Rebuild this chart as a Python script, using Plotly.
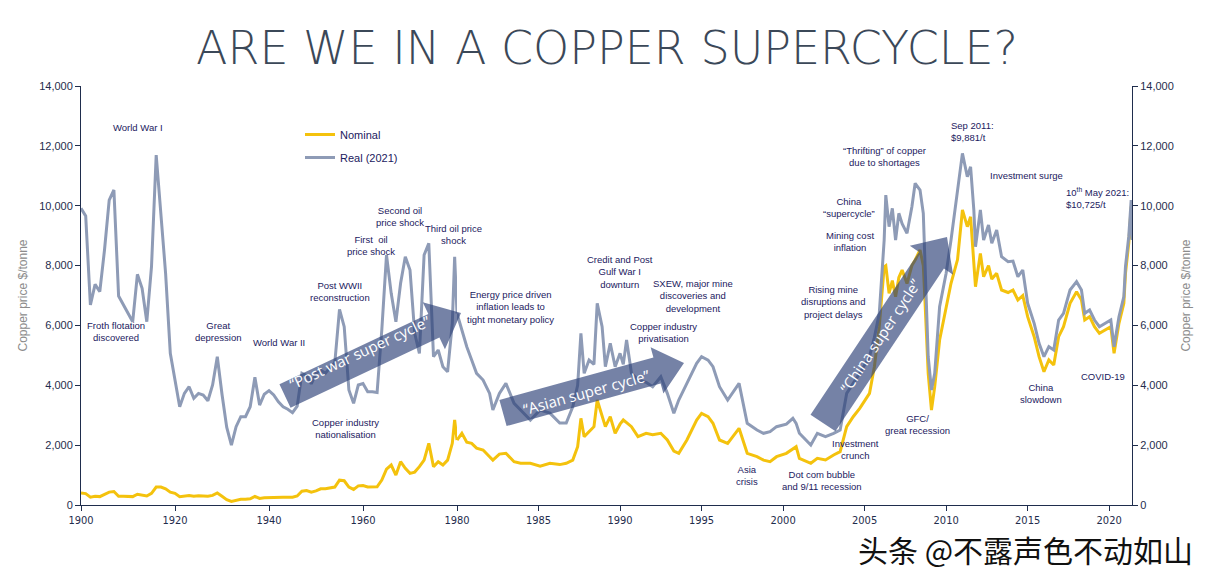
import math
import plotly.graph_objects as go

# ---------------- DATA ----------------
# Early period (annual, 1900-1980)
years_early = [1900, 1901, 1902, 1903, 1904, 1905, 1906, 1907, 1908, 1909,
               1910, 1911, 1912, 1913, 1914, 1915, 1916, 1917, 1918, 1919,
               1920, 1921, 1922, 1923, 1924, 1925, 1926, 1927, 1928, 1929,
               1930, 1931, 1932, 1933, 1934, 1935, 1936, 1937, 1938, 1939,
               1940, 1941, 1942, 1943, 1944, 1945, 1946, 1947, 1948, 1949,
               1950, 1951, 1952, 1953, 1954, 1955, 1956, 1957, 1958, 1959,
               1960, 1961, 1962, 1963, 1964, 1965, 1966, 1967, 1968, 1969,
               1970, 1971, 1972, 1973, 1974, 1975, 1976, 1977, 1978, 1979,
               1979.5, 1980]
real_early = [9912, 9655, 6682, 7373, 7127, 8520, 10190, 10525, 6983, 6682,
              6415, 6124, 7708, 7240, 6124, 7962, 11694, 9856, 7741, 5068,
              4176, 3284, 3730, 3953, 3565, 3730, 3675, 3485, 4009, 4955,
              3700, 2600, 2000, 2617, 2950, 2950, 3284, 4265, 3340, 3700,
              3820, 3675, 3450, 3284, 3200, 3085, 3300, 4400, 4320, 4050,
              4400, 4500, 4400, 4600, 4750, 6538, 5957, 3842, 3398, 4009,
              4060, 3786, 3786, 3760, 5847, 8352, 7073, 6124, 7407, 8296,
              7851, 5736, 5068, 8352, 8743, 4955, 5178, 4620, 4453, 6070,
              8296, 6400]
nominal_early = [400, 380, 260, 290, 280, 350, 430, 450, 290, 290,
                 290, 280, 360, 340, 300, 390, 600, 600, 540, 430,
                 390, 280, 300, 320, 290, 310, 300, 290, 320, 400,
                 290, 180, 120, 150, 190, 190, 210, 290, 220, 240,
                 250, 260, 260, 260, 260, 260, 300, 460, 480, 430,
                 470, 540, 540, 570, 600, 830, 810, 600, 520, 640,
                 650, 600, 600, 610, 835, 1200, 1336, 1000, 1447, 1225,
                 1058, 1100, 1280, 1500, 2061, 1280, 1447, 1336, 1500, 2061,
                 2840, 2172]

# Late period (sub-annual, 1980-2021)
t_late = [1980.0, 1980.3, 1980.6, 1980.9, 1981.2, 1981.6, 1982.0, 1982.2, 1982.6, 1983.0,
          1983.5, 1983.9, 1984.5, 1985.1, 1985.7, 1986.3, 1986.7, 1987.1, 1987.4, 1987.6,
          1987.8, 1988.1, 1988.4, 1988.6, 1988.9, 1989.1, 1989.4, 1989.7, 1990.0, 1990.2,
          1990.4, 1990.7, 1991.1, 1991.6, 1992.0, 1992.5, 1992.9, 1993.3, 1993.6, 1994.1,
          1994.7, 1995.0, 1995.4, 1995.7, 1996.1, 1996.6, 1997.3, 1997.8, 1998.4, 1998.8,
          1999.2, 1999.6, 2000.2, 2000.6, 2000.8, 2001.0, 2001.7, 2002.1, 2002.6, 2003.1,
          2003.5, 2003.9, 2004.3, 2004.7, 2005.3, 2005.6, 2005.9, 2006.2, 2006.3, 2006.5,
          2006.7, 2006.9, 2007.1, 2007.3, 2007.6, 2007.9, 2008.1, 2008.4, 2008.6, 2008.7,
          2008.9, 2009.1, 2009.3, 2009.6, 2010.0, 2010.3, 2010.7, 2011.0, 2011.3, 2011.5,
          2011.7, 2011.8, 2012.1, 2012.3, 2012.6, 2012.8, 2013.1, 2013.4, 2013.8, 2014.1,
          2014.4, 2014.7, 2015.0, 2015.4, 2015.7, 2016.0, 2016.3, 2016.6, 2016.9, 2017.2,
          2017.6, 2018.0, 2018.3, 2018.5, 2018.8, 2019.1, 2019.4, 2019.8, 2020.1, 2020.3,
          2020.6, 2020.9, 2021.0, 2021.2, 2021.35, 2021.4]
real_late = [6400, 5847, 5289, 4844, 4400, 4176, 3730, 3174, 3730, 4065,
             3398, 3174, 2840, 3174, 3070, 2740, 2740, 3284, 4000, 5736,
             4400, 4844, 4700, 6738, 5957, 4620, 5400, 4620, 5068, 4700,
             5512, 4400, 4176, 4100, 3953, 4287, 3730, 3063, 3508, 4065,
             4733, 4955, 4840, 4620, 3953, 3508, 4065, 2729, 2506, 2395,
             2450, 2617, 2700, 2897, 2729, 2395, 2005, 2395, 2283, 2395,
             2506, 3730, 4065, 4400, 4955, 5600, 6404, 8854, 10357, 9298,
             9912, 8854, 9746, 9400, 9077, 9968, 10748, 10524, 9746, 8296,
             4955, 3842, 4400, 6626, 7741, 8854, 10524, 11750, 10968, 11302,
             9856, 8630, 9856, 8854, 9355, 8743, 9188, 8296, 8129, 8150,
             7628, 7851, 6738, 6070, 5400, 4955, 5289, 5178, 6181, 6404,
             7183, 7462, 7183, 6404, 6515, 6181, 5957, 6070, 6181, 5289,
             6292, 6960, 7962, 8966, 10190, 8854]
nominal_late = [2172, 2395, 2100, 2061, 1900, 1838, 1614, 1500, 1700, 1727,
                1447, 1393, 1393, 1300, 1393, 1350, 1393, 1500, 1950, 2897,
                2283, 2450, 2617, 3508, 2950, 2617, 2950, 2395, 2700, 2840,
                2750, 2617, 2283, 2395, 2350, 2395, 2172, 1800, 1727, 2172,
                2840, 3063, 2950, 2729, 2172, 2061, 2562, 1727, 1614, 1500,
                1450, 1614, 1727, 1894, 1950, 1560, 1393, 1560, 1504, 1670,
                1782, 2617, 2950, 3230, 3730, 4620, 5957, 7962, 8000, 7073,
                7500, 6960, 7600, 7851, 7400, 8000, 8185, 8520, 8000, 6850,
                4400, 3174, 3953, 5512, 6626, 7407, 8200, 9856, 9300, 9632,
                8075, 7295, 8408, 7628, 8000, 7550, 7741, 7183, 7100, 7183,
                6850, 7000, 6292, 5623, 4955, 4453, 4844, 4677, 5623, 5957,
                6738, 7127, 6850, 6181, 6292, 5957, 5736, 5847, 5957, 5068,
                6070, 6738, 7741, 8743, 9968, 8900]

early_ticks = [1900, 1920, 1940, 1960]
late_ticks = [1980, 1985, 1990, 1995, 2000, 2005, 2010, 2015, 2020]
y_ticks = [0, 2000, 4000, 6000, 8000, 10000, 12000, 14000]

series_names = ["Nominal", "Real (2021)"]

# ---------------- STYLE ----------------
W, H = 1214, 582
L, R, T, B = 81, 1132, 86, 505
split = (457 - L) / (R - L)

NAVY = "#1b2060"
AXIS = "#1f2d4d"
YELLOW = "#f4c20d"
GREY = "#8e9bb6"
ARROW = "rgba(45,65,120,0.66)"
SANS = "Liberation Sans, Arial, sans-serif"


def px(x):
    return (x - L) / (R - L)


def py(y):
    return (B - y) / (B - T)


fig = go.Figure()

fig.add_trace(go.Scatter(x=years_early, y=nominal_early, mode="lines", name=series_names[0],
                         legendgroup="nom", line=dict(color=YELLOW, width=3),
                         xaxis="x", yaxis="y"))
fig.add_trace(go.Scatter(x=years_early, y=real_early, mode="lines", name=series_names[1],
                         legendgroup="real", line=dict(color=GREY, width=3),
                         xaxis="x", yaxis="y"))
fig.add_trace(go.Scatter(x=t_late, y=nominal_late, mode="lines", name=series_names[0],
                         legendgroup="nom", showlegend=False, line=dict(color=YELLOW, width=3),
                         xaxis="x2", yaxis="y"))
fig.add_trace(go.Scatter(x=t_late, y=real_late, mode="lines", name=series_names[1],
                         legendgroup="real", showlegend=False, line=dict(color=GREY, width=3),
                         xaxis="x2", yaxis="y"))
# invisible trace to hold right-hand axis
fig.add_trace(go.Scatter(x=t_late, y=real_late, mode="lines", opacity=0, showlegend=False,
                         hoverinfo="skip", xaxis="x2", yaxis="y2"))

tickfont = dict(family="Liberation Sans Narrow, DejaVu Sans Condensed, sans-serif", size=11, color=AXIS)
yfont = dict(family=SANS, size=11, color=AXIS)
ytitle = dict(text="Copper price $/tonne", standoff=8,
              font=dict(family=SANS, size=12, color="#8c8c8c"))

fig.update_layout(
    width=W, height=H,
    margin=dict(l=L, r=W - R, t=T, b=H - B),
    paper_bgcolor="white", plot_bgcolor="white",
    showlegend=True,
    legend=dict(x=px(300), y=py(120), xanchor="left", yanchor="top",
                font=dict(family=SANS, size=11, color=NAVY),
                bgcolor="rgba(0,0,0,0)", tracegroupgap=4, itemwidth=30),
    xaxis=dict(domain=[0, split], range=[1900, 1980], tickvals=early_ticks,
               ticks="outside", ticklen=5, tickcolor=AXIS, showline=True, linecolor=AXIS,
               linewidth=1, showgrid=False, zeroline=False, tickfont=tickfont, anchor="y"),
    xaxis2=dict(domain=[split, 1], range=[1980, 2021.4], tickvals=late_ticks,
                ticks="outside", ticklen=5, tickcolor=AXIS, showline=True, linecolor=AXIS,
                linewidth=1, showgrid=False, zeroline=False, tickfont=tickfont, anchor="y"),
    yaxis=dict(range=[0, 14000], tickvals=y_ticks, tickformat=",", ticks="outside",
               ticklen=5, tickcolor=AXIS, showline=True, linecolor=AXIS, showgrid=False,
               zeroline=False, tickfont=yfont, title=ytitle),
    yaxis2=dict(range=[0, 14000], tickvals=y_ticks, tickformat=",", ticks="outside",
                ticklen=5, tickcolor=AXIS, showline=True, linecolor=AXIS, showgrid=False,
                zeroline=False, tickfont=yfont, overlaying="y", side="right", anchor="x2",
                title=ytitle),
)

# Title
fig.add_annotation(x=px(W / 2), y=py(48), xref="paper", yref="paper", showarrow=False,
                   xanchor="center", yanchor="middle",
                   text="ARE WE IN A COPPER SUPERCYCLE?",
                   font=dict(family="DejaVu Sans, sans-serif", size=46, color="#3b4858", weight=200))


# Arrows
def arrow_path(x0, y0, x1, y1, w, hw, hl):
    dx, dy = x1 - x0, y1 - y0
    d = math.hypot(dx, dy)
    ux, uy = dx / d, dy / d
    nx, ny = -uy, ux
    bx, by = x1 - ux * hl, y1 - uy * hl
    pts = [
        (x0 + nx * w / 2, y0 + ny * w / 2),
        (bx + nx * w / 2, by + ny * w / 2),
        (bx + nx * hw / 2, by + ny * hw / 2),
        (x1, y1),
        (bx - nx * hw / 2, by - ny * hw / 2),
        (bx - nx * w / 2, by - ny * w / 2),
        (x0 - nx * w / 2, y0 - ny * w / 2),
    ]
    return "M " + " L ".join(f"{px(a):.5f},{py(b):.5f}" for a, b in pts) + " Z"


arrows = [
    ((285, 396), (461, 313), 26, 52, 30, "\u201cPost war super cycle\u201d", (360, 352), -25),
    ((503, 413), (684, 363), 27, 48, 28, "\u201cAsian super cycle\u201d", (586, 392), -15.5),
    ((823, 423), (947, 237), 30, 52, 28, "\u201cChina super cycle\u201d", (880, 336), -56.5),
]
for (x0, y0), (x1, y1), w, hw, hl, lab, (lx, ly), ang in arrows:
    fig.add_shape(type="path", path=arrow_path(x0, y0, x1, y1, w, hw, hl), xref="paper", yref="paper",
                  fillcolor=ARROW, line=dict(width=0), layer="above")
    fig.add_annotation(x=px(lx), y=py(ly), xref="paper", yref="paper", text=lab, showarrow=False,
                       textangle=ang, xanchor="center", yanchor="middle",
                       font=dict(family="Open Sans, sans-serif", size=15, color="white"))

# Text annotations (pixel centers)
notes = [
    ("World War I", 138, 127),
    ("Froth flotation<br>discovered", 116, 331),
    ("Great<br>depression", 218, 331),
    ("World War II", 279, 342),
    ("Post WWII<br>reconstruction", 340, 291),
    ("First  oil<br>price shock", 371, 245),
    ("Second oil<br>price shock", 400, 216),
    ("Third oil price<br>shock", 453, 234),
    ("Copper industry<br>nationalisation", 345, 428),
    ("Energy price driven<br>inflation leads to<br>tight monetary policy", 510, 307),
    ("Credit and Post<br>Gulf War I<br>downturn", 620, 272),
    ("SXEW, major mine<br>discoveries and<br>development", 693, 296),
    ("Copper industry<br>privatisation", 663, 332),
    ("Asia<br>crisis", 747, 475),
    ("Dot com bubble<br>and 9/11 recession", 822, 480),
    ("Investment<br>crunch", 855, 449),
    ("Rising mine<br>disruptions and<br>project delays", 833, 302),
    ("Mining cost<br>inflation", 850, 242),
    ("China<br>\u201csupercycle\u201d", 849, 207),
    ("\u201cThrifting\u201d of copper<br>due to shortages", 884, 156),
    ("GFC/<br>great recession", 917, 424),
    ("Investment surge", 1026, 175),
    ("China<br>slowdown", 1041, 393),
    ("COVID-19", 1103, 376),
]
for txt, x, y in notes:
    fig.add_annotation(x=px(x), y=py(y), xref="paper", yref="paper", text=txt, showarrow=False,
                       xanchor="center", yanchor="middle", align="center",
                       font=dict(family=SANS, size=9.5, color=NAVY))

for txt, x, y in [("Sep 2011:<br>$9,881/t", 949, 131),
                  ("10<sup>th</sup> May 2021:<br>$10,725/t", 1064, 198)]:
    fig.add_annotation(x=px(x), y=py(y), xref="paper", yref="paper", text=txt, showarrow=False,
                       xanchor="left", yanchor="middle", align="left",
                       font=dict(family=SANS, size=9.5, color=NAVY))

# Watermark
fig.add_annotation(x=px(1195), y=py(549), xref="paper", yref="paper", showarrow=False,
                   xanchor="right", yanchor="middle", text="头条 @不露声色不动如山",
                   font=dict(family="Noto Sans CJK SC, sans-serif", size=30, color="#111111",
                             shadow="1px 1px 1px white"))

fig.write_html("out.html")
